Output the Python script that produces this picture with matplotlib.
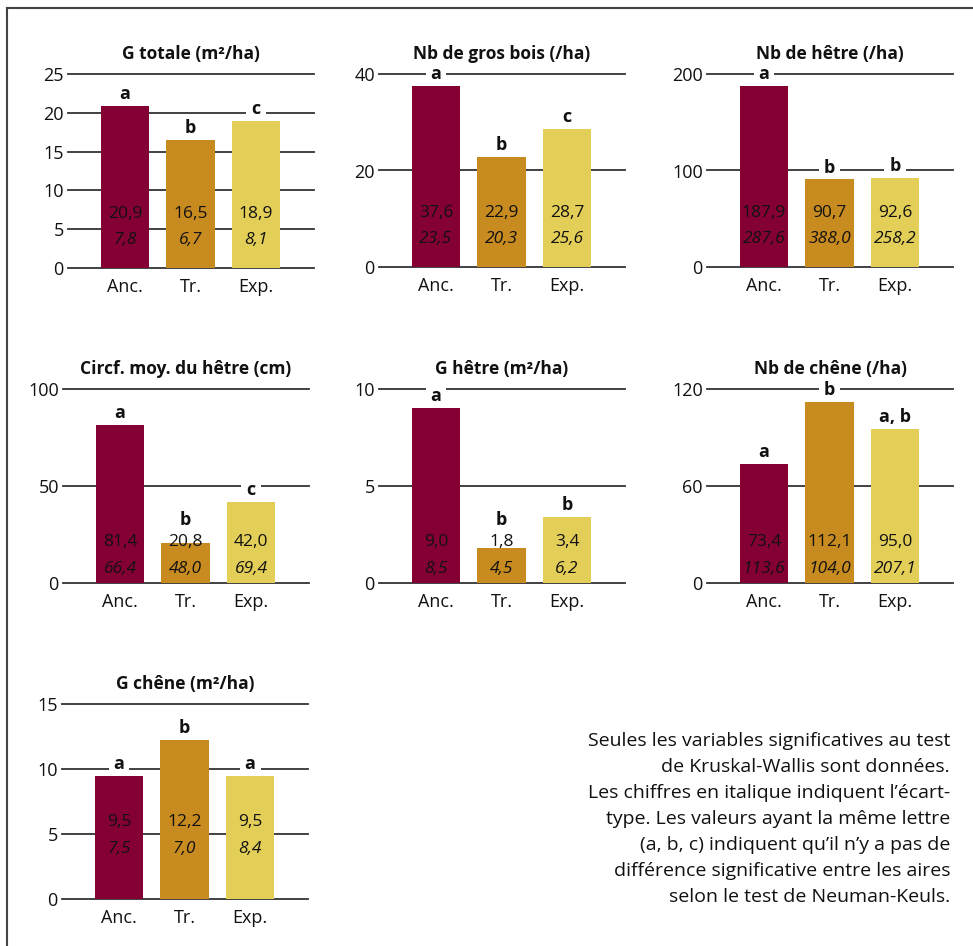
import matplotlib
matplotlib.use('Agg')
import matplotlib.pyplot as plt
from matplotlib.lines import Line2D

plt.rcParams['font.family'] = ['Open Sans', 'DejaVu Sans']

# groups (same for every panel)
categories = ['Anc.', 'Tr.', 'Exp.']
colors = ['#840034', '#C78B20', '#E3CF58']

# panel data: mean, standard deviation (italic), Neuman-Keuls letters
titles = ['G totale (m²/ha)', 'Nb de gros bois (/ha)', 'Nb de hêtre (/ha)',
          'Circf. moy. du hêtre (cm)', 'G hêtre (m²/ha)', 'Nb de chêne (/ha)',
          'G chêne (m²/ha)']

g_totale_mean = [20.9, 16.5, 18.9]
g_totale_sd = [7.8, 6.7, 8.1]
g_totale_letters = ['a', 'b', 'c']

gros_bois_mean = [37.6, 22.9, 28.7]
gros_bois_sd = [23.5, 20.3, 25.6]
gros_bois_letters = ['a', 'b', 'c']

nb_hetre_mean = [187.9, 90.7, 92.6]
nb_hetre_sd = [287.6, 388.0, 258.2]
nb_hetre_letters = ['a', 'b', 'b']

circ_hetre_mean = [81.4, 20.8, 42.0]
circ_hetre_sd = [66.4, 48.0, 69.4]
circ_hetre_letters = ['a', 'b', 'c']

g_hetre_mean = [9.0, 1.8, 3.4]
g_hetre_sd = [8.5, 4.5, 6.2]
g_hetre_letters = ['a', 'b', 'b']

nb_chene_mean = [73.4, 112.1, 95.0]
nb_chene_sd = [113.6, 104.0, 207.1]
nb_chene_letters = ['a', 'b', 'a, b']

g_chene_mean = [9.5, 12.2, 9.5]
g_chene_sd = [7.5, 7.0, 8.4]
g_chene_letters = ['a', 'b', 'a']

y_ticks = [[0, 5, 10, 15, 20, 25], [0, 20, 40], [0, 100, 200],
           [0, 50, 100], [0, 5, 10], [0, 60, 120], [0, 5, 10, 15]]

means = [g_totale_mean, gros_bois_mean, nb_hetre_mean, circ_hetre_mean,
         g_hetre_mean, nb_chene_mean, g_chene_mean]
sds = [g_totale_sd, gros_bois_sd, nb_hetre_sd, circ_hetre_sd,
       g_hetre_sd, nb_chene_sd, g_chene_sd]
letters = [g_totale_letters, gros_bois_letters, nb_hetre_letters,
           circ_hetre_letters, g_hetre_letters, nb_chene_letters,
           g_chene_letters]

note_lines = ['Seules les variables significatives au test',
              'de Kruskal-Wallis sont données.',
              'Les chiffres en italique indiquent l’écart-',
              'type. Les valeurs ayant la même lettre',
              '(a, b, c) indiquent qu’il n’y a pas de',
              'différence significative entre les aires',
              'selon le test de Neuman-Keuls.']

W, H = 973, 946
fig = plt.figure(figsize=(W / 100, H / 100), dpi=100)

# axes boxes in pixels: left, top, bottom
boxes = [(68, 74, 268), (379, 74, 267), (707, 74, 267),
         (63, 389, 583), (379, 389, 583), (707, 389, 583),
         (62, 704, 899)]
ax_w = 246
# vertical place of the two value labels (fraction of axes height)
label_frac = [(0.278, 0.144)] * 3 + [(0.211, 0.072)] * 3 + [(0.395, 0.256)]

grid_col = '#333333'

def fmt(v):
    return f'{v:.1f}'.replace('.', ',')

for i in range(7):
    left, top, bottom = boxes[i]
    ax = fig.add_axes([left / W, 1 - bottom / H, ax_w / W, (bottom - top) / H])
    ymax = y_ticks[i][-1]
    x = list(range(len(categories)))

    for t in y_ticks[i]:
        ax.axhline(t, color=grid_col, lw=1.3, zorder=1, clip_on=False)
    ax.bar(x, means[i], width=0.733, color=colors, zorder=3)

    f1, f2 = label_frac[i]
    for j in x:
        ax.text(j, f1 * ymax, fmt(means[i][j]), ha='center', va='center',
                fontsize=12.5, color='#111111', zorder=4)
        ax.text(j, f2 * ymax, fmt(sds[i][j]), ha='center', va='center',
                fontsize=12.5, style='italic', color='#111111', zorder=4)
        base = max(means[i][j], (f1 + 10 / 194) * ymax)
        ax.annotate(letters[i][j], (j, base), xytext=(0, 5),
                    textcoords='offset points', ha='center', va='baseline',
                    fontsize=13, fontweight='bold', color='#111111',
                    zorder=2.5, annotation_clip=False,
                    bbox=dict(boxstyle='square,pad=0.28', facecolor='white',
                              edgecolor='none'))

    ax.set_xlim(-0.87, 2.885)
    ax.set_ylim(0, ymax)
    ax.set_yticks(y_ticks[i])
    ax.set_xticks(x)
    ax.set_xticklabels(categories)
    ax.tick_params(axis='both', length=0, labelsize=13, colors='#111111')
    ax.tick_params(axis='y', pad=3)
    ax.tick_params(axis='x', pad=7)
    for s in ax.spines.values():
        s.set_visible(False)
    ax.patch.set_alpha(0)
    ax.set_title(titles[i], fontsize=12.5, fontweight='bold', pad=11,
                 color='#111111')

for k, line in enumerate(note_lines):
    fig.text(950 / W, 1 - (741 + 26 * k) / H, line, ha='right', va='center',
             fontsize=14, color='#111111')

# frame (only top and left edges are visible in the crop)
fig.add_artist(Line2D([7 / W, 1], [1 - 8 / H, 1 - 8 / H],
                      transform=fig.transFigure, color='#444444', lw=1.5))
fig.add_artist(Line2D([7 / W, 7 / W], [0, 1 - 8 / H],
                      transform=fig.transFigure, color='#444444', lw=1.5))

fig.savefig('out.png', dpi=100)
